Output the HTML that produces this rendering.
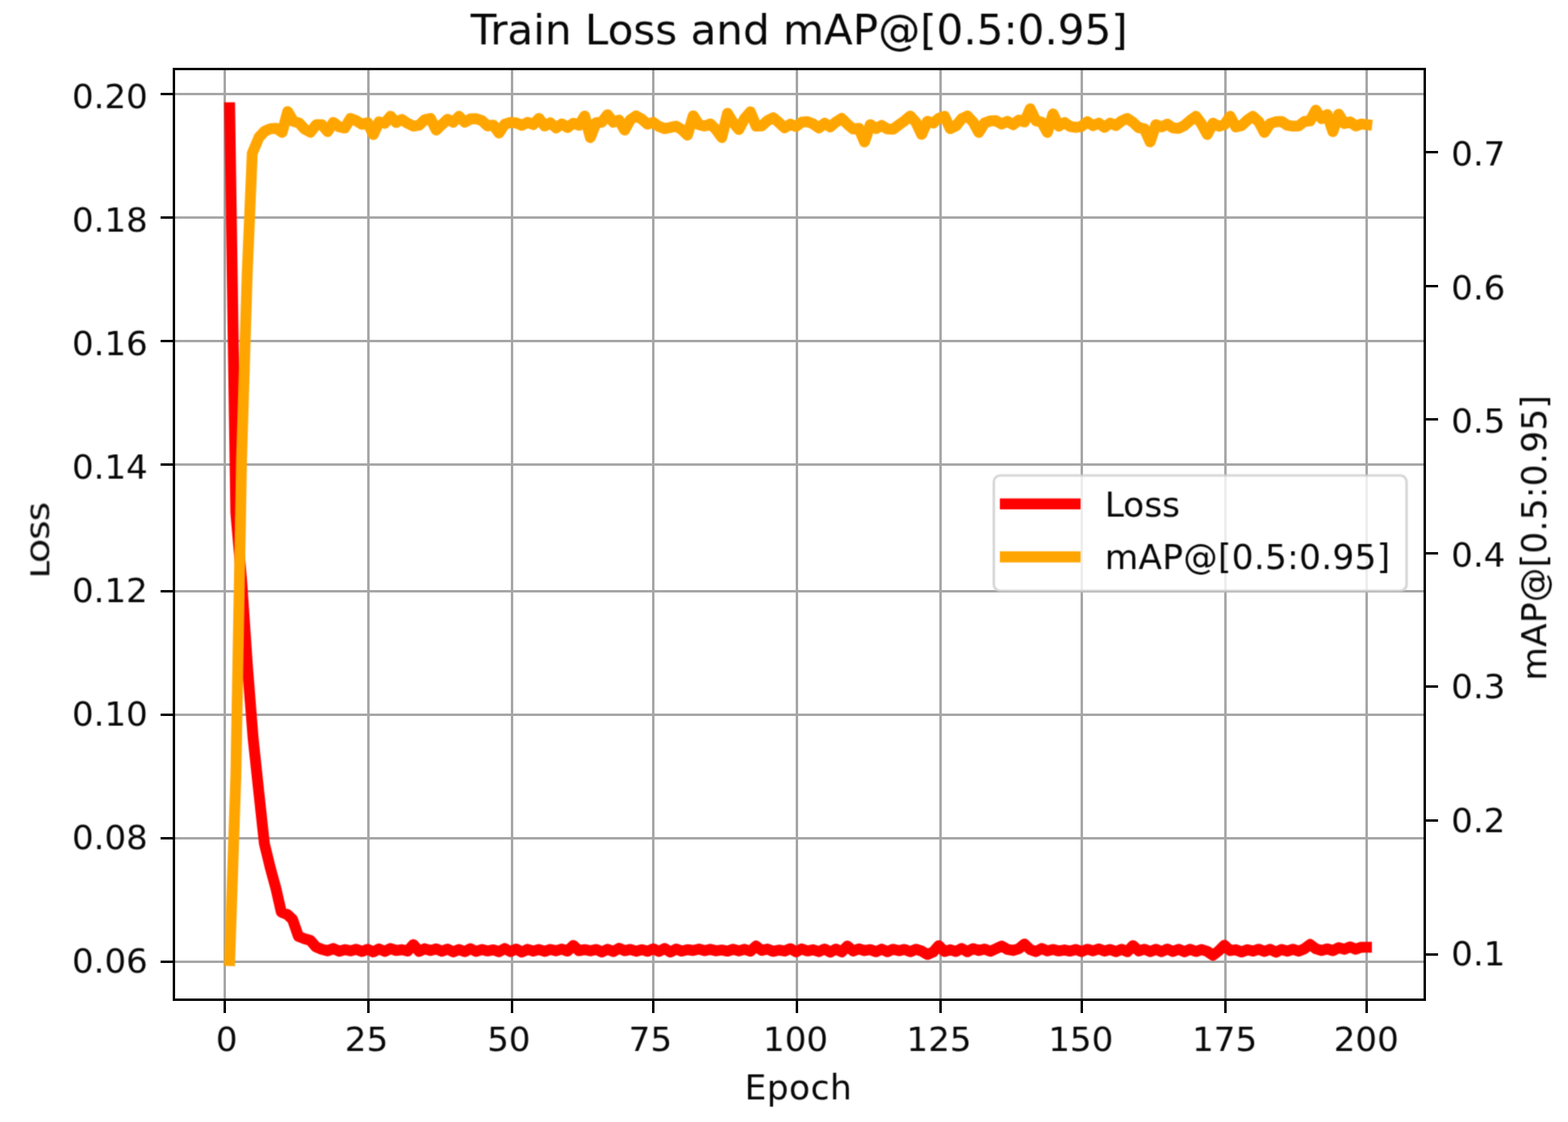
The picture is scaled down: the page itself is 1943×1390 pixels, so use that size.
<!DOCTYPE html>
<html lang="en"><head><meta charset="utf-8"><title>Train Loss and mAP@[0.5:0.95]</title>
<style>html,body{margin:0;padding:0;background:#fff}body{width:1943px;height:1390px;overflow:hidden}svg{display:block}text{font-family:"DejaVu Sans","Liberation Sans",sans-serif;fill:#080808}</style>
</head><body>
<svg width="1943" height="1390" viewBox="0 0 1943 1390">
<defs><filter id="soft" filterUnits="userSpaceOnUse" x="0" y="0" width="1943" height="1390" color-interpolation-filters="sRGB"><feConvolveMatrix order="3" kernelMatrix="0.04000 0.12000 0.04000 0.12000 0.36000 0.12000 0.04000 0.12000 0.04000" divisor="1" edgeMode="none" preserveAlpha="false"/></filter></defs>
<rect width="1943" height="1390" fill="#fff"/>
<g fill="#a6a6a6" shape-rendering="crispEdges">
<rect x="277" y="87" width="3" height="1150"/>
<rect x="455" y="87" width="3" height="1150"/>
<rect x="633" y="87" width="3" height="1150"/>
<rect x="808" y="87" width="3" height="1150"/>
<rect x="986" y="87" width="3" height="1150"/>
<rect x="1164" y="87" width="3" height="1150"/>
<rect x="1339" y="87" width="3" height="1150"/>
<rect x="1517" y="87" width="3" height="1150"/>
<rect x="1692" y="87" width="3" height="1150"/>
<rect x="217" y="115" width="1547" height="3"/>
<rect x="217" y="268" width="1547" height="3"/>
<rect x="217" y="421" width="1547" height="3"/>
<rect x="217" y="574" width="1547" height="3"/>
<rect x="217" y="731" width="1547" height="3"/>
<rect x="217" y="884" width="1547" height="3"/>
<rect x="217" y="1037" width="1547" height="3"/>
<rect x="217" y="1190" width="1547" height="3"/>
</g>
<g fill="none" stroke-width="13.5" stroke-linejoin="round" stroke-linecap="square" filter="url(#soft)">
<path d="M284.6,133.5 L292.2,635.0 L299.5,720.0 L306.6,825.0 L313.7,915.0 L320.8,982.0 L327.6,1045.0 L334.9,1075.0 L342.0,1101.0 L348.6,1130.0 L356.1,1133.0 L362.5,1139.0 L369.8,1160.0 L377.4,1163.0 L384.5,1165.0 L391.5,1173.0 L398.6,1176.0 L406.0,1177.9 L413.1,1175.1 L420.2,1178.4 L427.2,1176.4 L434.3,1177.9 L441.4,1175.9 L448.5,1178.8 L455.6,1176.0 L462.6,1179.3 L469.7,1175.6 L476.8,1178.6 L483.9,1175.1 L490.9,1177.6 L498.0,1176.5 L505.1,1178.2 L512.2,1170.2 L519.3,1178.6 L526.3,1175.3 L533.4,1177.6 L540.5,1175.5 L547.6,1178.4 L554.6,1175.7 L561.7,1179.2 L568.8,1176.3 L575.9,1179.0 L583.0,1175.3 L590.0,1178.7 L597.1,1176.3 L604.2,1178.1 L611.3,1176.7 L618.3,1179.0 L625.4,1175.1 L632.5,1178.9 L639.6,1175.7 L646.7,1179.5 L653.7,1176.1 L660.8,1178.2 L667.9,1176.3 L675.0,1178.7 L682.0,1176.2 L689.1,1177.9 L696.2,1175.8 L703.3,1178.3 L710.4,1171.2 L717.4,1177.8 L724.5,1176.4 L731.6,1177.9 L738.7,1176.2 L745.7,1179.4 L752.8,1176.0 L759.9,1178.8 L767.0,1174.8 L774.1,1177.8 L781.1,1176.2 L788.2,1178.4 L795.3,1176.4 L802.4,1178.5 L809.5,1175.5 L816.5,1178.7 L823.6,1175.1 L830.7,1179.4 L837.8,1175.7 L844.8,1178.3 L851.9,1176.5 L859.0,1177.5 L866.1,1175.8 L873.2,1177.8 L880.2,1176.1 L887.3,1177.9 L894.4,1176.9 L901.5,1178.3 L908.5,1176.0 L915.6,1177.9 L922.7,1176.0 L929.8,1178.5 L936.9,1172.0 L943.9,1177.5 L951.0,1175.8 L958.1,1178.6 L965.2,1177.0 L972.2,1178.2 L979.3,1175.2 L986.4,1179.2 L993.5,1175.6 L1000.6,1178.1 L1007.6,1176.6 L1014.7,1178.9 L1021.8,1175.7 L1028.9,1179.5 L1035.9,1175.8 L1043.0,1179.3 L1050.1,1172.0 L1057.2,1178.2 L1064.3,1175.5 L1071.3,1177.7 L1078.4,1176.4 L1085.5,1179.1 L1092.6,1175.9 L1099.6,1179.0 L1106.7,1175.9 L1113.8,1177.8 L1120.9,1176.2 L1128.0,1179.0 L1135.0,1176.0 L1142.1,1178.2 L1149.2,1182.5 L1156.3,1179.4 L1163.3,1171.5 L1170.4,1178.8 L1177.5,1176.6 L1184.6,1178.7 L1191.7,1175.1 L1198.7,1179.0 L1205.8,1175.2 L1212.9,1177.6 L1220.0,1175.7 L1227.1,1178.5 L1234.1,1175.4 L1241.2,1172.0 L1248.3,1176.1 L1255.4,1177.5 L1262.4,1175.4 L1269.5,1169.5 L1276.6,1176.3 L1283.7,1178.9 L1290.8,1175.1 L1297.8,1178.0 L1304.9,1176.3 L1312.0,1178.1 L1319.1,1176.8 L1326.1,1178.3 L1333.2,1176.2 L1340.3,1178.9 L1347.4,1175.9 L1354.5,1178.0 L1361.5,1175.5 L1368.6,1178.3 L1375.7,1176.2 L1382.8,1178.9 L1389.8,1176.1 L1396.9,1179.0 L1404.0,1171.5 L1411.1,1178.1 L1418.2,1175.9 L1425.2,1178.9 L1432.3,1176.1 L1439.4,1179.0 L1446.5,1175.7 L1453.5,1178.8 L1460.6,1176.0 L1467.7,1179.1 L1474.8,1176.0 L1481.9,1178.8 L1488.9,1176.3 L1496.0,1178.6 L1503.1,1183.5 L1510.2,1178.0 L1517.2,1171.0 L1524.3,1177.7 L1531.4,1176.6 L1538.5,1179.4 L1545.6,1176.6 L1552.6,1178.3 L1559.7,1175.9 L1566.8,1178.7 L1573.9,1176.0 L1581.0,1179.6 L1588.0,1176.2 L1595.1,1178.4 L1602.2,1176.0 L1609.3,1178.3 L1616.3,1175.4 L1623.4,1170.0 L1630.5,1175.4 L1637.6,1177.5 L1644.7,1175.5 L1651.7,1177.7 L1658.8,1174.0 L1665.9,1175.9 L1673.0,1173.0 L1680.0,1175.9 L1687.1,1173.4 L1693.3,1173.4" stroke="#ff0000"/>
<path d="M284.6,1190.0 L292.3,960.0 L299.3,570.0 L306.3,340.0 L312.6,190.0 L321.0,170.0 L328.1,162.5 L335.2,159.5 L342.3,159.0 L349.6,164.0 L356.5,138.2 L363.5,150.3 L370.6,152.4 L377.7,160.1 L384.8,163.7 L391.8,154.5 L398.9,154.6 L406.0,163.0 L413.1,151.7 L420.2,157.2 L427.2,158.5 L434.3,146.7 L441.4,149.6 L448.5,153.9 L455.6,152.1 L462.6,166.7 L469.7,151.1 L476.8,152.7 L483.9,143.9 L490.9,151.7 L498.0,148.0 L505.1,152.8 L512.2,156.3 L519.3,155.2 L526.3,148.4 L533.4,146.7 L540.5,161.1 L547.6,154.3 L554.6,147.8 L561.7,151.4 L568.8,144.1 L575.9,151.4 L583.0,147.3 L590.0,147.1 L597.1,149.4 L604.2,156.0 L611.3,154.9 L618.3,164.8 L625.4,154.0 L632.5,151.7 L639.6,152.2 L646.7,155.3 L653.7,151.6 L660.8,154.3 L667.9,146.7 L675.0,156.1 L682.0,152.2 L689.1,158.5 L696.2,153.6 L703.3,158.0 L710.4,152.7 L717.4,155.1 L724.5,143.7 L731.6,170.4 L738.7,151.9 L745.7,151.4 L752.8,142.2 L759.9,151.3 L767.0,148.8 L774.1,161.1 L781.1,148.3 L788.2,143.7 L795.3,147.7 L802.4,153.8 L809.5,151.6 L816.5,156.7 L823.6,159.3 L830.7,157.9 L837.8,156.3 L844.8,160.6 L851.9,167.4 L859.0,143.4 L866.1,154.5 L873.2,156.1 L880.2,153.5 L887.3,160.5 L894.4,170.4 L901.5,140.4 L908.5,151.9 L915.6,160.4 L922.7,146.9 L929.8,138.5 L936.9,156.3 L943.9,156.0 L951.0,149.6 L958.1,145.9 L965.2,151.8 L972.2,158.4 L979.3,153.9 L986.4,156.7 L993.5,151.3 L1000.6,150.8 L1007.6,153.5 L1014.7,158.5 L1021.8,152.7 L1028.9,157.2 L1035.9,151.2 L1043.0,146.7 L1050.1,153.8 L1057.2,159.8 L1064.3,159.0 L1071.3,175.8 L1078.4,154.5 L1085.5,159.2 L1092.6,155.4 L1099.6,159.7 L1106.7,160.0 L1113.8,154.8 L1120.9,149.6 L1128.0,143.7 L1135.0,151.5 L1142.1,166.5 L1149.2,150.3 L1156.3,152.4 L1163.3,146.7 L1170.4,144.1 L1177.5,159.3 L1184.6,156.0 L1191.7,147.1 L1198.7,143.7 L1205.8,151.1 L1212.9,164.1 L1220.0,152.4 L1227.1,149.8 L1234.1,149.6 L1241.2,153.7 L1248.3,150.4 L1255.4,154.5 L1262.4,148.7 L1269.5,151.1 L1276.6,134.8 L1283.7,149.7 L1290.8,151.3 L1297.8,164.1 L1304.9,141.1 L1312.0,156.3 L1319.1,151.9 L1326.1,156.8 L1333.2,157.8 L1340.3,156.6 L1347.4,150.8 L1354.5,155.7 L1361.5,152.6 L1368.6,157.7 L1375.7,152.6 L1382.8,155.4 L1389.8,149.9 L1396.9,146.7 L1404.0,151.6 L1411.1,158.2 L1418.2,159.7 L1425.2,175.8 L1432.3,154.5 L1439.4,157.3 L1446.5,153.7 L1453.5,158.5 L1460.6,159.1 L1467.7,155.4 L1474.8,149.3 L1481.9,144.1 L1488.9,153.5 L1496.0,166.5 L1503.1,152.6 L1510.2,156.4 L1517.2,154.5 L1524.3,144.1 L1531.4,157.2 L1538.5,155.7 L1545.6,148.9 L1552.6,144.1 L1559.7,150.7 L1566.8,164.1 L1573.9,153.1 L1581.0,150.8 L1588.0,150.4 L1595.1,155.2 L1602.2,156.3 L1609.3,156.0 L1616.3,150.5 L1623.4,149.8 L1630.5,136.5 L1637.6,147.0 L1644.7,142.0 L1651.7,163.0 L1658.8,141.5 L1665.9,153.0 L1673.0,151.0 L1680.0,156.0 L1687.1,153.6 L1693.6,154.4" stroke="#ffa500"/>
</g>
<g fill="#000" shape-rendering="crispEdges">
<rect x="214" y="84" width="1553" height="3"/>
<rect x="214" y="1237" width="1553" height="3"/>
<rect x="214" y="84" width="3" height="1156"/>
<rect x="1764" y="84" width="3" height="1156"/>
<rect x="277" y="1240" width="3" height="15"/>
<rect x="455" y="1240" width="3" height="15"/>
<rect x="633" y="1240" width="3" height="15"/>
<rect x="808" y="1240" width="3" height="15"/>
<rect x="986" y="1240" width="3" height="15"/>
<rect x="1164" y="1240" width="3" height="15"/>
<rect x="1339" y="1240" width="3" height="15"/>
<rect x="1517" y="1240" width="3" height="15"/>
<rect x="1692" y="1240" width="3" height="15"/>
<rect x="199" y="115" width="15" height="3"/>
<rect x="199" y="268" width="15" height="3"/>
<rect x="199" y="421" width="15" height="3"/>
<rect x="199" y="574" width="15" height="3"/>
<rect x="199" y="731" width="15" height="3"/>
<rect x="199" y="884" width="15" height="3"/>
<rect x="199" y="1037" width="15" height="3"/>
<rect x="199" y="1190" width="15" height="3"/>
<rect x="1767" y="187" width="15" height="3"/>
<rect x="1767" y="353" width="15" height="3"/>
<rect x="1767" y="518" width="15" height="3"/>
<rect x="1767" y="684" width="15" height="3"/>
<rect x="1767" y="849" width="15" height="3"/>
<rect x="1767" y="1015" width="15" height="3"/>
<rect x="1767" y="1181" width="15" height="3"/>
</g>
<g filter="url(#soft)">
<rect x="1231.5" y="589" width="511.5" height="143" rx="8" ry="8" fill="#fff" fill-opacity="0.8" stroke="#ccc" stroke-opacity="0.8" stroke-width="3.2"/>
<line x1="1239" y1="624.2" x2="1339" y2="624.2" stroke="#ff0000" stroke-width="13.6"/>
<line x1="1239" y1="689.9" x2="1339" y2="689.9" stroke="#ffa500" stroke-width="13.6"/>
<text x="1368.9" y="640" font-size="42.6">Loss</text>
<text x="1368.9" y="705.4" font-size="42.6" letter-spacing="0.36">mAP@[0.5:0.95]</text>
<g font-size="40.6">
<text transform="translate(280.9 1302.2) scale(1.04 1)" text-anchor="middle">0</text>
<text transform="translate(454.2 1302.2) scale(1.04 1)" text-anchor="middle">25</text>
<text transform="translate(630.5 1302.2) scale(1.04 1)" text-anchor="middle">50</text>
<text transform="translate(805.9 1302.2) scale(1.04 1)" text-anchor="middle">75</text>
<text transform="translate(985.9 1302.2) scale(1.04 1)" text-anchor="middle">100</text>
<text transform="translate(1163.6 1302.2) scale(1.04 1)" text-anchor="middle">125</text>
<text transform="translate(1339.2 1302.2) scale(1.04 1)" text-anchor="middle">150</text>
<text transform="translate(1517.5 1302.2) scale(1.04 1)" text-anchor="middle">175</text>
<text transform="translate(1693.0 1302.2) scale(1.04 1)" text-anchor="middle">200</text>
<text transform="translate(183.2 133.5) scale(1.04 1)" text-anchor="end">0.20</text>
<text transform="translate(183.2 286.6) scale(1.04 1)" text-anchor="end">0.18</text>
<text transform="translate(183.2 439.7) scale(1.04 1)" text-anchor="end">0.16</text>
<text transform="translate(183.2 592.8) scale(1.04 1)" text-anchor="end">0.14</text>
<text transform="translate(183.2 745.9) scale(1.04 1)" text-anchor="end">0.12</text>
<text transform="translate(183.2 899.0) scale(1.04 1)" text-anchor="end">0.10</text>
<text transform="translate(183.2 1052.1) scale(1.04 1)" text-anchor="end">0.08</text>
<text transform="translate(183.2 1205.2) scale(1.04 1)" text-anchor="end">0.06</text>
<text transform="translate(1798.3 205.4) scale(1.04 1)">0.7</text>
<text transform="translate(1798.3 370.6) scale(1.04 1)">0.6</text>
<text transform="translate(1798.3 536.3) scale(1.04 1)">0.5</text>
<text transform="translate(1798.3 701.8) scale(1.04 1)">0.4</text>
<text transform="translate(1798.3 864.7) scale(1.04 1)">0.3</text>
<text transform="translate(1798.3 1030.5) scale(1.04 1)">0.2</text>
<text transform="translate(1798.3 1195.8) scale(1.04 1)">0.1</text>
</g>
<text x="989.4" y="1361.6" font-size="42.6" text-anchor="middle" letter-spacing="0.6">Epoch</text>
<text transform="translate(60.9 668.9) rotate(-90) scale(1.062 0.941)" font-size="34" text-anchor="middle" style="stroke:#111;stroke-width:0.6px">LOSS</text>
<text transform="translate(1916 666.2) rotate(-90)" font-size="42.6" text-anchor="middle" letter-spacing="0.36">mAP@[0.5:0.95]</text>
<text transform="translate(990.3 55.2) scale(1.018 1)" font-size="51.2" text-anchor="middle">Train Loss and mAP@[0.5:0.95]</text>
</g>
</svg></body></html>
